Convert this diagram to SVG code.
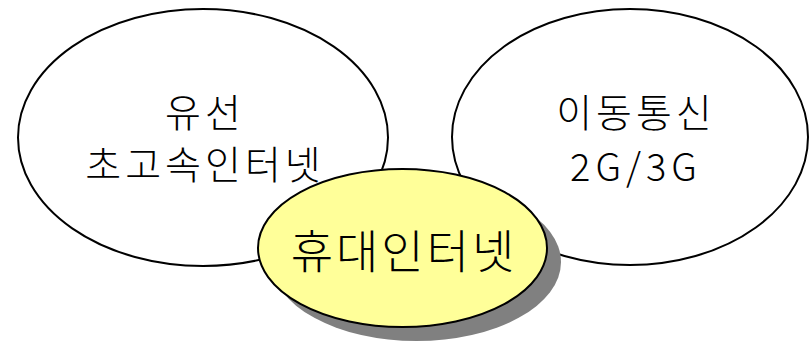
<svg xmlns="http://www.w3.org/2000/svg" width="809" height="344" viewBox="0 0 809 344">
<style>
.oval{fill:#ffffff;stroke:#000000;stroke-width:2}
.yel{fill:#ffff99;stroke:#000000;stroke-width:2}
.shadow{fill:#808080}
.ko{font-family:"Noto Sans CJK KR","Noto Sans",sans-serif;font-weight:300;fill:#000000;text-anchor:middle}
</style>
<rect width="809" height="344" fill="#ffffff"/>
<g id="wired">
<ellipse class="oval" cx="203" cy="137.5" rx="185" ry="128.5"/>
<text class="ko" x="205" y="127" font-size="39" letter-spacing="4">유선</text>
<text class="ko" x="205" y="179" font-size="39" letter-spacing="4">초고속인터넷</text>
</g>
<g id="mobile">
<ellipse class="oval" cx="630" cy="137" rx="178" ry="128"/>
<text class="ko" x="636" y="127" font-size="39" letter-spacing="4">이동통신</text>
<text class="ko" x="636" y="181" font-size="38" letter-spacing="5">2G/3G</text>
</g>
<g id="portable">
<ellipse class="shadow" cx="416.5" cy="262" rx="144.5" ry="79"/>
<ellipse class="yel" cx="402.5" cy="248" rx="144.5" ry="79"/>
<text class="ko" x="404" y="268" font-size="46" letter-spacing="3">휴대인터넷</text>
</g>
<g id="connectors"/>
</svg>
